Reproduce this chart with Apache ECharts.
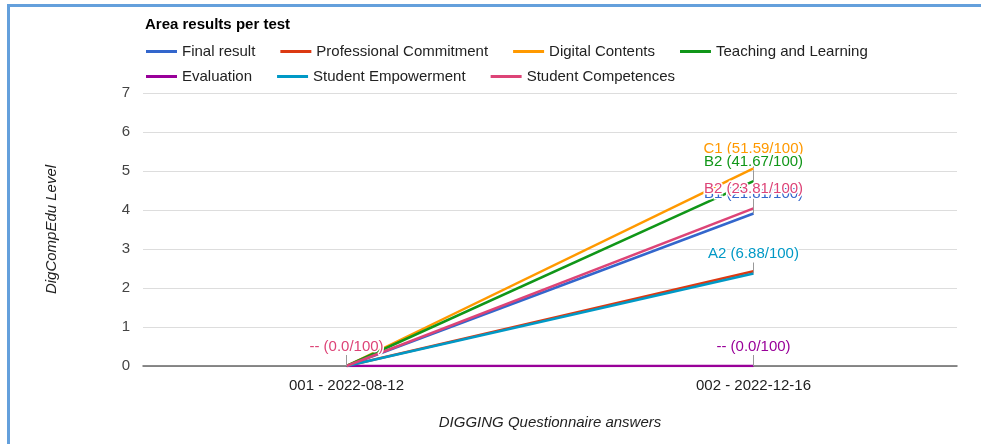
<!DOCTYPE html>
<html>
<head>
<meta charset="utf-8">
<script src="https://cdn.jsdelivr.net/npm/echarts@6/dist/echarts.min.js"></script>
<style>
  html, body { margin: 0; padding: 0; background: #fff; }
  #J_Chart { width: 981px; height: 444px; }
  #frame {
    position: absolute; left: 7px; top: 4px; width: 1000px; height: 500px;
    border-top: 3px solid #64a0dc; border-left: 3px solid #64a0dc;
    pointer-events: none;
  }
</style>
</head>
<body>
<div id="J_Chart"></div>
<div id="frame"></div>
<script>
'use strict';

const tests = ['001 - 2022-08-12', '002 - 2022-12-16'];
const yTicks = [0, 1, 2, 3, 4, 5, 6, 7];

const names = [
  'Final result',
  'Professional Commitment',
  'Digital Contents',
  'Teaching and Learning',
  'Evaluation',
  'Student Empowerment',
  'Student Competences',
];
const colors = ['#3366cc', '#dc3912', '#ff9900', '#109618', '#990099', '#0099c6', '#dd4477'];

// level per test
const finalResult = [0, 3.91];
const profCommitment = [0, 2.43];
const digitalContents = [0, 5.07];
const teachingLearning = [0, 4.74];
const evaluation = [0, 0];
const studentEmpowerment = [0, 2.37];
const studentCompetences = [0, 4.04];

// annotations shown on the points ('' = hidden)
const finalNotes = ['', 'B1 (21.81/100)'];
const profNotes = ['', ''];
const digitalNotes = ['', 'C1 (51.59/100)'];
const teachingNotes = ['', 'B2 (41.67/100)'];
const evaluationNotes = ['', '-- (0.0/100)'];
const empowermentNotes = ['', 'A2 (6.88/100)'];
const competencesNotes = ['-- (0.0/100)', 'B2 (23.81/100)'];

const values = [finalResult, profCommitment, digitalContents, teachingLearning,
  evaluation, studentEmpowerment, studentCompetences];
const notes = [finalNotes, profNotes, digitalNotes, teachingNotes,
  evaluationNotes, empowermentNotes, competencesNotes];

const FONT = 'Liberation Sans, Arial, sans-serif';
const STEM = 11;

const series = names.map((name, i) => ({
  name,
  type: 'line',
  showSymbol: true,
  symbol: 'rect',
  symbolSize: 0,
  lineStyle: { color: colors[i], width: 2.5 },
  itemStyle: { color: colors[i] },
  data: values[i].map((v, j) => {
    const note = notes[i][j];
    if (!note) return { value: v, label: { show: false } };
    // annotation: grey stem above the point with the text on top
    return {
      value: v,
      symbolSize: [1, STEM],
      symbolOffset: [0, -STEM / 2],
      itemStyle: { color: '#999' },
      label: {
        show: true,
        formatter: note,
        position: 'top',
        distance: 1,
        color: colors[i],
        fontSize: 15,
        fontFamily: FONT,
        textBorderColor: '#fff',
        textBorderWidth: 3,
      },
    };
  }),
}));

const legendBase = {
  icon: 'rect',
  itemWidth: 31,
  itemHeight: 3,
  itemGap: 25,
  padding: 0,
  left: 146,
  textStyle: { fontSize: 15, color: '#222', fontFamily: FONT },
};

const option = {
  animation: false,
  color: colors,
  title: {
    text: 'Area results per test',
    left: 145,
    top: 17,
    padding: 0,
    textStyle: { fontSize: 15, fontWeight: 'bold', color: '#000', fontFamily: FONT },
  },
  legend: [
    Object.assign({}, legendBase, { top: 44, data: names.slice(0, 4) }),
    Object.assign({}, legendBase, { top: 69, data: names.slice(4) }),
  ],
  grid: { left: 143, right: 24, top: 93, bottom: 78 },
  xAxis: {
    type: 'category',
    data: tests,
    boundaryGap: true,
    name: 'DIGGING Questionnaire answers',
    nameLocation: 'middle',
    nameGap: 49,
    nameTextStyle: { fontSize: 15, fontStyle: 'italic', color: '#222', fontFamily: FONT },
    axisLine: { lineStyle: { color: '#666', width: 1.5 } },
    axisTick: { show: false },
    axisLabel: { fontSize: 15, color: '#222', margin: 12, fontFamily: FONT },
  },
  yAxis: {
    type: 'value',
    min: yTicks[0],
    max: yTicks[yTicks.length - 1],
    interval: 1,
    name: 'DigCompEdu Level',
    nameLocation: 'middle',
    nameGap: 84,
    nameTextStyle: { fontSize: 15, fontStyle: 'italic', color: '#222', fontFamily: FONT },
    axisLine: { show: false },
    axisTick: { show: false },
    axisLabel: { fontSize: 15, color: '#444', margin: 13, fontFamily: FONT },
    splitLine: { lineStyle: { color: '#ddd', width: 1 } },
  },
  series,
};

const myChart = echarts.init(document.getElementById('J_Chart'));
myChart.setOption(option);
</script>
</body>
</html>
